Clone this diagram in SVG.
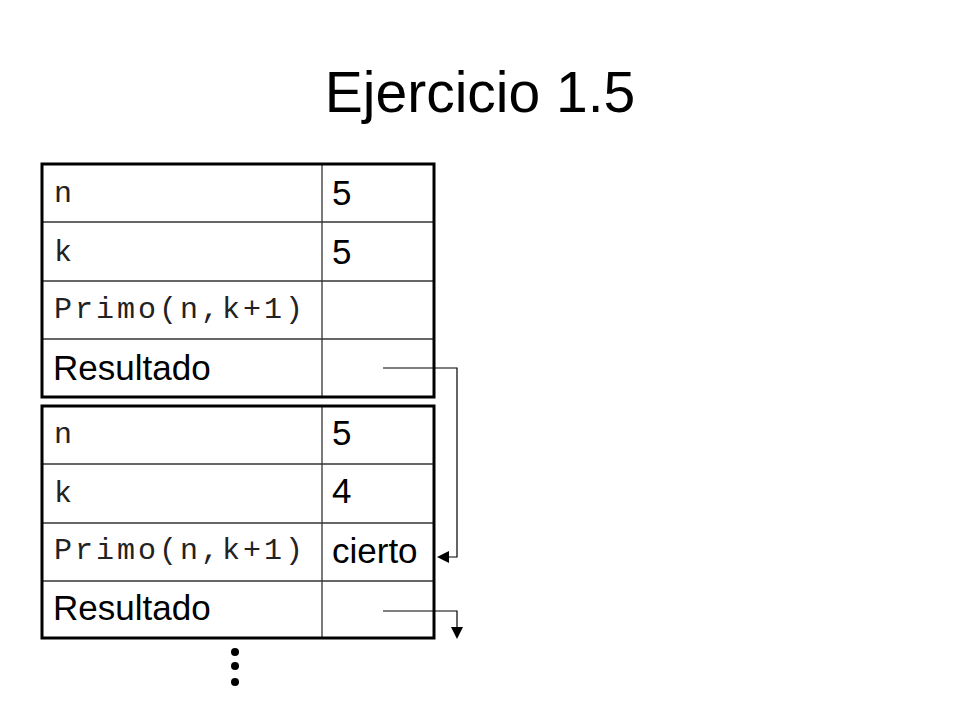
<svg xmlns="http://www.w3.org/2000/svg" width="960" height="720" viewBox="0 0 960 720">
<style>
.outer{fill:none;stroke:#000;stroke-width:3}
.inner{stroke:#333;stroke-width:1.3}
.mono{font-family:"Liberation Mono","Courier New",monospace;font-size:30px;letter-spacing:3px;fill:#222}
.sans{font-family:"Liberation Sans",Arial,sans-serif;font-size:35px;fill:#000}
.title{font-family:"Liberation Sans",Arial,sans-serif;font-size:57px;fill:#000}
.conn{fill:none;stroke:#000;stroke-width:1.2}
.head{fill:#000}
</style>
<rect width="960" height="720" fill="#fff"/>
<text id="title" class="title" x="480" y="112" text-anchor="middle">Ejercicio 1.5</text>
<g id="table1">
<line class="inner" x1="322" y1="164" x2="322" y2="397"/>
<line class="inner" x1="42" y1="222" x2="434" y2="222"/>
<line class="inner" x1="42" y1="281" x2="434" y2="281"/>
<line class="inner" x1="42" y1="339" x2="434" y2="339"/>
<rect class="outer" x="42" y="164" width="392" height="233"/>
<text class="mono" x="54" y="202">n</text>
<text class="mono" x="54" y="261">k</text>
<text class="mono" x="54" y="318">Primo(n,k+1)</text>
<text class="sans" x="53" y="380">Resultado</text>
<text class="sans" x="332" y="205">5</text>
<text class="sans" x="332" y="264">5</text>
</g>
<g id="table2">
<line class="inner" x1="322" y1="406" x2="322" y2="638"/>
<line class="inner" x1="42" y1="464" x2="434" y2="464"/>
<line class="inner" x1="42" y1="523" x2="434" y2="523"/>
<line class="inner" x1="42" y1="581" x2="434" y2="581"/>
<rect class="outer" x="42" y="406" width="392" height="232"/>
<text class="mono" x="54" y="443">n</text>
<text class="mono" x="54" y="502">k</text>
<text class="mono" x="54" y="559">Primo(n,k+1)</text>
<text class="sans" x="53" y="620">Resultado</text>
<text class="sans" x="332" y="445">5</text>
<text class="sans" x="332" y="503">4</text>
<text class="sans" x="332" y="563">cierto</text>
</g>
<g id="connectors">
<polyline class="conn" points="383,368 457,368 457,557 447,557"/>
<polygon class="head" points="437,557 449,551 449,563"/>
<polyline class="conn" points="383,611 457,611 457,629"/>
<polygon class="head" points="457,639 451,627 463,627"/>
</g>
<g id="ellipsis">
<circle class="head" cx="235" cy="652" r="4"/>
<circle class="head" cx="235" cy="666" r="4"/>
<circle class="head" cx="235" cy="682" r="4"/>
</g>
</svg>
